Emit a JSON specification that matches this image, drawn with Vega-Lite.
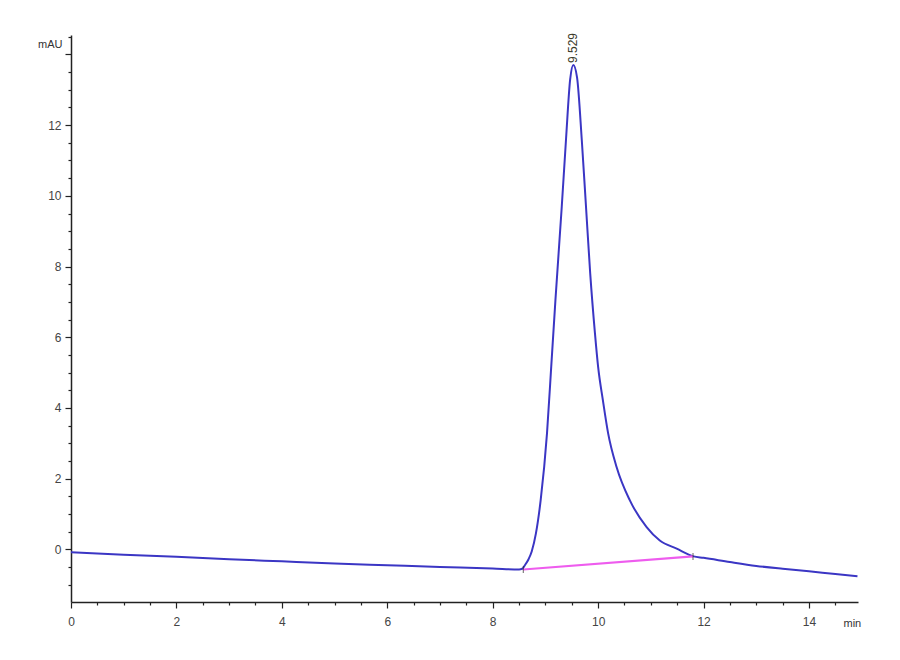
{
  "$schema": "https://vega.github.io/schema/vega-lite/v6.json",
  "autosize": {"type": "none"},
  "width": 787,
  "height": 567,
  "padding": {"left": 71, "top": 35, "right": 42, "bottom": 58},
  "background": "white",
  "config": {
    "view": {"stroke": null},
    "font": "Liberation Sans",
    "axis": {
      "grid": false,
      "domainColor": "#222222",
      "domainWidth": 1.5,
      "tickColor": "#222222",
      "tickWidth": 1.2,
      "labelColor": "#444444",
      "labelFont": "Liberation Sans",
      "labelFontSize": 12,
      "titleFont": "Liberation Sans",
      "titleFontSize": 11,
      "titleFontWeight": "normal",
      "titleColor": "#333333"
    }
  },
  "datasets": {
    "trace": [
      {"t": 0, "mAU": -0.08},
      {"t": 1, "mAU": -0.15},
      {"t": 2, "mAU": -0.21},
      {"t": 3, "mAU": -0.28},
      {"t": 4, "mAU": -0.34},
      {"t": 5, "mAU": -0.4},
      {"t": 6, "mAU": -0.45},
      {"t": 7, "mAU": -0.5},
      {"t": 8, "mAU": -0.54},
      {"t": 8.5, "mAU": -0.57},
      {"t": 8.56, "mAU": -0.55},
      {"t": 8.61, "mAU": -0.45},
      {"t": 8.68, "mAU": -0.28},
      {"t": 8.74, "mAU": -0.06},
      {"t": 8.82, "mAU": 0.45},
      {"t": 8.91, "mAU": 1.39},
      {"t": 9.03, "mAU": 3.28},
      {"t": 9.11, "mAU": 5.16},
      {"t": 9.19, "mAU": 7.05},
      {"t": 9.31, "mAU": 9.69},
      {"t": 9.39, "mAU": 11.58},
      {"t": 9.47, "mAU": 13.3},
      {"t": 9.529, "mAU": 13.7},
      {"t": 9.6, "mAU": 13.35},
      {"t": 9.69, "mAU": 11.58},
      {"t": 9.77, "mAU": 9.69},
      {"t": 9.85, "mAU": 7.8},
      {"t": 9.94, "mAU": 6.11},
      {"t": 10.0, "mAU": 5.16},
      {"t": 10.09, "mAU": 4.22},
      {"t": 10.19, "mAU": 3.28},
      {"t": 10.35, "mAU": 2.33},
      {"t": 10.6, "mAU": 1.39},
      {"t": 10.92, "mAU": 0.63},
      {"t": 11.17, "mAU": 0.25},
      {"t": 11.49, "mAU": 0.02},
      {"t": 11.81, "mAU": -0.2},
      {"t": 12.0, "mAU": -0.24},
      {"t": 12.5, "mAU": -0.36},
      {"t": 13.0, "mAU": -0.47},
      {"t": 13.5, "mAU": -0.55},
      {"t": 14.0, "mAU": -0.62},
      {"t": 14.5, "mAU": -0.7},
      {"t": 14.92, "mAU": -0.76}
    ],
    "baseline": [
      {"t": 8.58, "mAU": -0.57},
      {"t": 11.8, "mAU": -0.2}
    ],
    "peaks": [
      {"t": 9.529, "mAU": 13.7, "label": "9.529"}
    ]
  },
  "encoding": {
    "x": {
      "field": "t",
      "type": "quantitative",
      "scale": {"domain": [0, 14.93], "nice": false, "zero": false},
      "axis": {
        "values": [0, 0.5, 1, 1.5, 2, 2.5, 3, 3.5, 4, 4.5, 5, 5.5, 6, 6.5, 7, 7.5, 8, 8.5, 9, 9.5, 10, 10.5, 11, 11.5, 12, 12.5, 13, 13.5, 14, 14.5],
        "format": "~g",
        "labelExpr": "datum.value % 2 === 0 ? datum.label : ''",
        "tickSize": {"condition": {"test": "datum.value % 2 === 0", "value": 6}, "value": 3},
        "labelPadding": 8,
        "labelFlush": false,
        "title": "min",
        "titleAlign": "left",
        "titleBaseline": "middle",
        "titleAnchor": null,
        "titleX": 772,
        "titleY": 21
      }
    },
    "y": {
      "field": "mAU",
      "type": "quantitative",
      "scale": {"domain": [-1.49, 14.55], "nice": false, "zero": false},
      "axis": {
        "values": [-1, -0.5, 0, 0.5, 1, 1.5, 2, 2.5, 3, 3.5, 4, 4.5, 5, 5.5, 6, 6.5, 7, 7.5, 8, 8.5, 9, 9.5, 10, 10.5, 11, 11.5, 12, 12.5, 13, 13.5, 14, 14.5],
        "format": "~g",
        "labelExpr": "datum.value % 2 === 0 && datum.value < 14 ? datum.label : ''",
        "tickSize": {"condition": {"test": "datum.value % 2 === 0", "value": 6}, "value": 3},
        "labelPadding": 4,
        "labelFlush": false,
        "title": "mAU",
        "titleAngle": 0,
        "titleAlign": "right",
        "titleBaseline": "middle",
        "titleAnchor": null,
        "titleX": -9,
        "titleY": 9
      }
    }
  },
  "layer": [
    {
      "data": {"name": "trace"},
      "mark": {"type": "line", "color": "#3b36c4", "strokeWidth": 2, "interpolate": "monotone"}
    },
    {
      "data": {"name": "baseline"},
      "mark": {"type": "line", "color": "#ee5cee", "strokeWidth": 2.2}
    },
    {
      "data": {"name": "baseline"},
      "mark": {"type": "tick", "orient": "vertical", "color": "#222222", "size": 7, "thickness": 1}
    },
    {
      "data": {"name": "peaks"},
      "mark": {"type": "text", "angle": 270, "align": "left", "baseline": "middle", "dx": 2, "fontSize": 12, "color": "#3a3a2a"},
      "encoding": {"text": {"field": "label"}}
    }
  ]
}
